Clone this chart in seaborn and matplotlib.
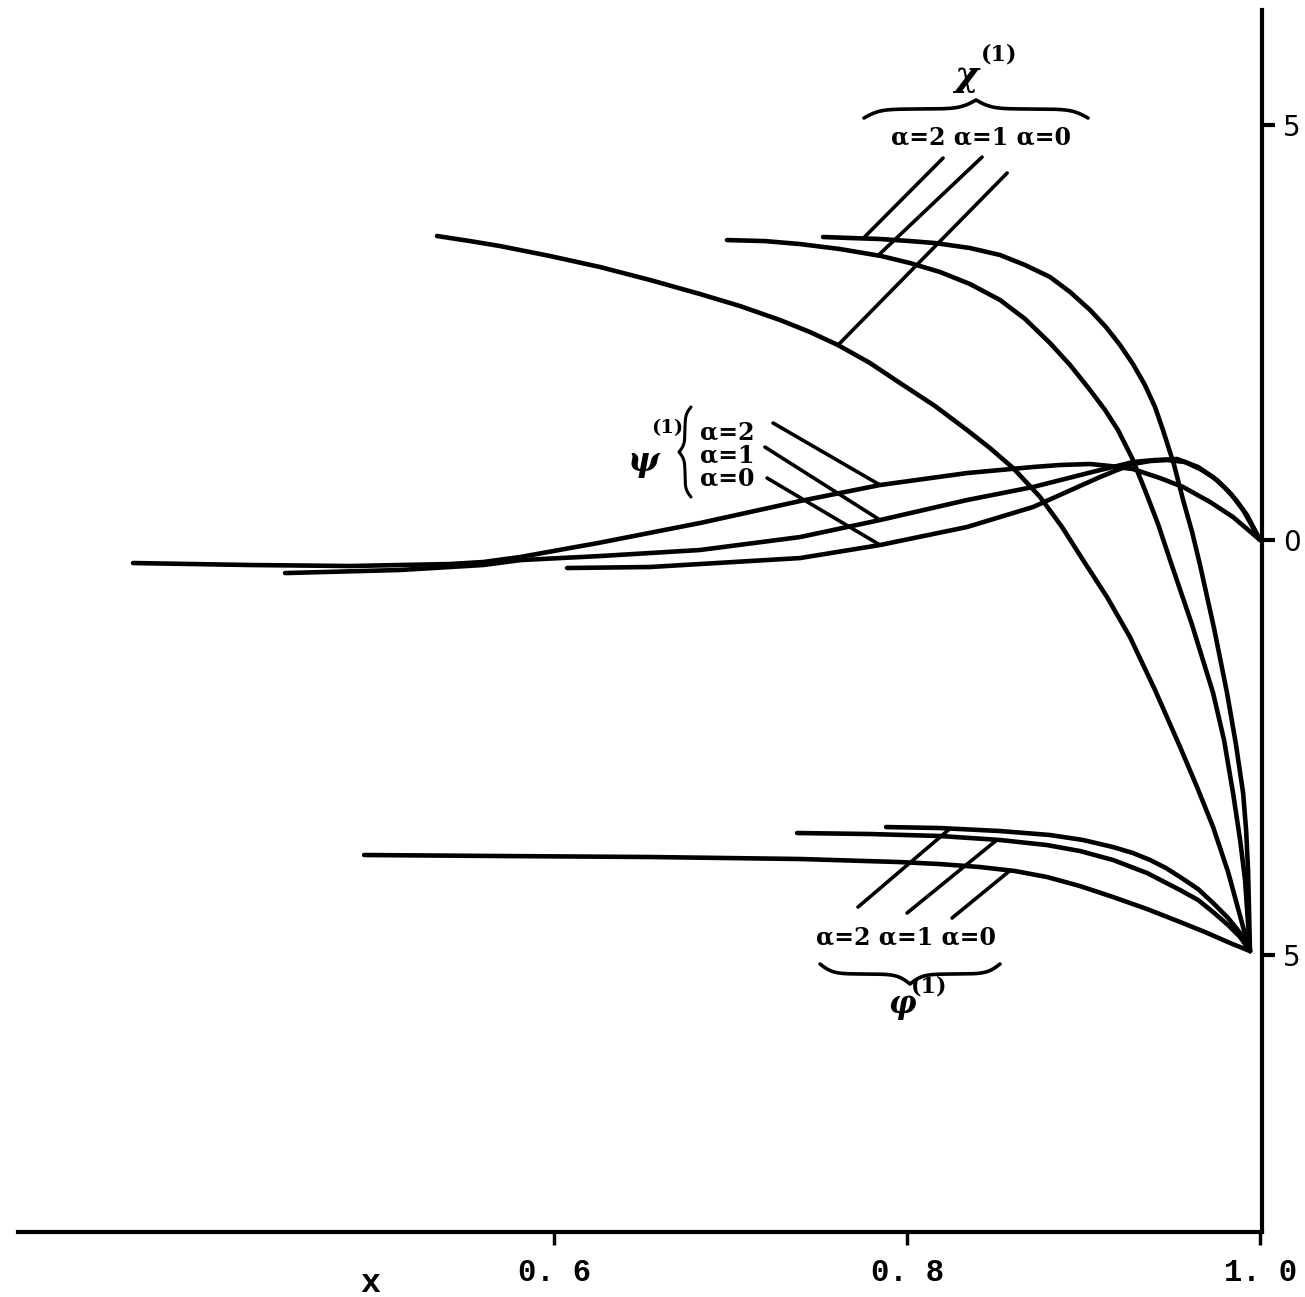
import numpy as np
import matplotlib
matplotlib.use("Agg")
import matplotlib.pyplot as plt
from matplotlib.lines import Line2D
import seaborn as sns

sns.set_style("white")
plt.rcParams['font.family'] = ['DejaVu Serif', 'DejaVu Sans']
plt.rcParams['text.color'] = 'black'
plt.rcParams['axes.labelcolor'] = 'black'
plt.rcParams['xtick.color'] = 'black'
plt.rcParams['ytick.color'] = 'black'

# ---------------- data ----------------
# chi^(1) curves
chi0_x = [0.5337, 0.5524, 0.5694, 0.5977, 0.6261, 0.6544, 0.6827, 0.7054, 0.7280, 0.7450, 0.7609, 0.7790,
          0.7960, 0.8159, 0.8340, 0.8470, 0.8601, 0.8754, 0.8878, 0.8997, 0.9133, 0.9263, 0.9405, 0.9547,
          0.9643, 0.9734, 0.9819, 0.9904, 0.9943]
chi0_y = [0.3663, 0.3602, 0.3542, 0.3422, 0.3289, 0.3133, 0.2964, 0.2819, 0.2651, 0.2506, 0.2349, 0.2133,
          0.1892, 0.1614, 0.1325, 0.1108, 0.0867, 0.0518, 0.0157, -0.0241, -0.0687, -0.1169, -0.1807, -0.2494,
          -0.2976, -0.3458, -0.4000, -0.4663, -0.4952]
chi1_x = [0.6980, 0.7195, 0.7394, 0.7620, 0.7853, 0.8017, 0.8187, 0.8357, 0.8527, 0.8669, 0.8810, 0.8924,
          0.9037, 0.9122, 0.9195, 0.9275, 0.9348, 0.9422, 0.9490, 0.9615, 0.9734, 0.9796, 0.9847, 0.9887,
          0.9915, 0.9943]
chi1_y = [0.3614, 0.3602, 0.3566, 0.3506, 0.3422, 0.3337, 0.3229, 0.3084, 0.2892, 0.2663, 0.2373, 0.2108,
          0.1807, 0.1566, 0.1325, 0.0988, 0.0602, 0.0193, -0.0241, -0.1024, -0.1843, -0.2410, -0.3048, -0.3614,
          -0.4096, -0.4952]
chi2_x = [0.7524, 0.7677, 0.7847, 0.8017, 0.8159, 0.8357, 0.8527, 0.8669, 0.8810, 0.8924, 0.9037, 0.9127,
          0.9207, 0.9280, 0.9348, 0.9405, 0.9450, 0.9513, 0.9564, 0.9615, 0.9660, 0.9739, 0.9813, 0.9864,
          0.9904, 0.9921, 0.9932, 0.9943]
chi2_y = [0.3651, 0.3639, 0.3627, 0.3602, 0.3578, 0.3518, 0.3434, 0.3313, 0.3169, 0.2988, 0.2771, 0.2566,
          0.2349, 0.2120, 0.1867, 0.1602, 0.1325, 0.0904, 0.0482, 0.0096, -0.0301, -0.1060, -0.1843, -0.2470,
          -0.3048, -0.3494, -0.3976, -0.4952]

# psi^(1) curves
psi2_x = [0.3615, 0.4278, 0.4844, 0.5411, 0.5598, 0.5807, 0.6249, 0.6827, 0.7394, 0.7847, 0.8340, 0.8714,
          0.8867, 0.9037, 0.9150, 0.9280, 0.9433, 0.9564, 0.9717, 0.9847, 1.0]
psi2_y = [-0.0277, -0.0301, -0.0313, -0.0289, -0.0265, -0.0205, -0.0036, 0.0205, 0.0470, 0.0663, 0.0807, 0.0880,
          0.0904, 0.0916, 0.0892, 0.0855, 0.0747, 0.0639, 0.0458, 0.0277, 0.0]
psi1_x = [0.4476, 0.5127, 0.5598, 0.5813, 0.6261, 0.6827, 0.7394, 0.7847, 0.8340, 0.8714, 0.9093, 0.9190,
          0.9280, 0.9405, 0.9530, 0.9649, 0.9756, 0.9836, 0.9904, 1.0]
psi1_y = [-0.0398, -0.0361, -0.0301, -0.0241, -0.0193, -0.0120, 0.0036, 0.0241, 0.0482, 0.0639, 0.0843, 0.0892,
          0.0940, 0.0964, 0.0976, 0.0880, 0.0723, 0.0554, 0.0361, 0.0]
psi0_x = [0.6074, 0.6544, 0.6827, 0.7394, 0.7847, 0.8340, 0.8714, 0.9093, 0.9190, 0.9280, 0.9377, 0.9473,
          0.9575, 0.9660, 0.9734, 0.9802, 0.9864, 0.9926, 1.0]
psi0_y = [-0.0337, -0.0325, -0.0289, -0.0217, -0.0060, 0.0157, 0.0398, 0.0759, 0.0843, 0.0916, 0.0952, 0.0964,
          0.0940, 0.0855, 0.0759, 0.0627, 0.0482, 0.0301, 0.0]

# phi^(1) curves
phi2_x = [0.7881, 0.8187, 0.8527, 0.8810, 0.8997, 0.9167, 0.9280, 0.9377, 0.9467, 0.9547, 0.9649, 0.9734,
          0.9819, 0.9887, 0.9943]
phi2_y = [-0.3458, -0.3470, -0.3506, -0.3554, -0.3614, -0.3699, -0.3771, -0.3855, -0.3952, -0.4060, -0.4205,
          -0.4373, -0.4554, -0.4735, -0.4952]
phi1_x = [0.7377, 0.7790, 0.8187, 0.8527, 0.8793, 0.8980, 0.9167, 0.9360, 0.9547, 0.9649, 0.9734, 0.9819,
          0.9887, 0.9943]
phi1_y = [-0.3530, -0.3542, -0.3566, -0.3614, -0.3675, -0.3747, -0.3855, -0.4012, -0.4217, -0.4337, -0.4482,
          -0.4639, -0.4783, -0.4952]
phi0_x = [0.4924, 0.5694, 0.6544, 0.7394, 0.7960, 0.8187, 0.8414, 0.8612, 0.8793, 0.8980, 0.9167, 0.9360,
          0.9547, 0.9688, 0.9830, 0.9943]
phi0_y = [-0.3795, -0.3807, -0.3819, -0.3843, -0.3880, -0.3904, -0.3940, -0.3988, -0.4060, -0.4169, -0.4301,
          -0.4446, -0.4602, -0.4723, -0.4855, -0.4952]

x_ticks = [0.6, 0.8, 1.0]
x_tick_labels = ["0. 6", "0. 8", "1. 0"]
y_ticks = [-0.5, 0.0, 0.5]
y_tick_labels = ["5", "0", "5"]
alpha_labels = ["\u03b1=2", "\u03b1=1", "\u03b1=0"]

# ---------------- figure ----------------
W, H = 1305, 1297
fig = plt.figure(figsize=(W / 100, H / 100), dpi=100)
ax = fig.add_axes([18 / W, (H - 1232) / H, (1262 - 18) / W, (1232 - 10) / H])
ax.set_xlim(0.2963, 1.0011)
ax.set_ylim(-0.8337, 0.6386)

curves = [(chi0_x, chi0_y), (chi1_x, chi1_y), (chi2_x, chi2_y),
          (psi0_x, psi0_y), (psi1_x, psi1_y), (psi2_x, psi2_y),
          (phi0_x, phi0_y), (phi1_x, phi1_y), (phi2_x, phi2_y)]
for xs, ys in curves:
    sns.lineplot(x=xs, y=ys, ax=ax, color="black", linewidth=3.3,
                 sort=False, estimator=None, solid_capstyle="round",
                 solid_joinstyle="round")


# leader lines (from label to a point on the curve)
def leader(x0, y0, x1, cx, cy):
    y1 = np.interp(x1, cx, cy)
    ax.plot([x0, x1], [y0, y1], color="black", lw=2.6, solid_capstyle="round")


leader(0.8204, 0.4602, 0.7751, chi2_x, chi2_y)
leader(0.8425, 0.4614, 0.7836, chi1_x, chi1_y)
leader(0.8567, 0.4422, 0.7609, chi0_x, chi0_y)

leader(0.7241, 0.1410, 0.7847, psi2_x, psi2_y)
leader(0.7195, 0.1120, 0.7847, psi1_x, psi1_y)
leader(0.7207, 0.0747, 0.7847, psi0_x, psi0_y)

leader(0.7722, -0.4422, 0.8244, phi2_x, phi2_y)
leader(0.8000, -0.4494, 0.8510, phi1_x, phi1_y)
leader(0.8255, -0.4554, 0.8584, phi0_x, phi0_y)

# axes styling
for s in ["left", "top"]:
    ax.spines[s].set_visible(False)
for s in ["right", "bottom"]:
    ax.spines[s].set_linewidth(3.0)
    ax.spines[s].set_color("black")

ax.yaxis.tick_right()
ax.set_yticks(y_ticks)
ax.set_yticklabels(y_tick_labels)
ax.tick_params(axis="y", right=True, left=False, direction="out", length=9,
               width=3, pad=6, labelsize=20, colors="black")
for lbl in ax.get_yticklabels():
    lbl.set_fontfamily("DejaVu Sans")

ax.set_xticks(x_ticks)
ax.set_xticklabels(x_tick_labels)
ax.tick_params(axis="x", bottom=True, direction="out", length=9, width=2.5,
               pad=10, labelsize=22, colors="black")
for lbl in ax.get_xticklabels():
    lbl.set_fontfamily("Liberation Mono")
    lbl.set_fontweight("bold")
ax.set_xlabel("")
ax.set_ylabel("")
ax.grid(False)


def T(px, py, s, **kw):
    kw.setdefault("ha", "center")
    kw.setdefault("va", "center")
    kw.setdefault("fontweight", "bold")
    kw.setdefault("color", "black")
    fig.text(px / W, 1 - py / H, s, **kw)


def brace(a0, a1, base, h, horizontal=True, beta=14, lw=2.6):
    u = np.linspace(0, 1, 120)
    half = 1 / (1 + np.exp(-beta * u)) + 1 / (1 + np.exp(-beta * (u - 1))) - 0.5
    am = (a0 + a1) / 2
    along = np.concatenate([a0 + u * (am - a0), am + u * (a1 - am)])
    across = base + h * np.concatenate([half, half[::-1]])
    if horizontal:
        px, py = along, across
    else:
        px, py = across, along
    fig.add_artist(Line2D(px / W, 1 - py / H, transform=fig.transFigure,
                          color="black", lw=lw, solid_capstyle="round"))


# chi label group
T(966, 76, "\u03c7", fontsize=26, fontstyle="italic")
T(999, 54, "(1)", fontsize=16)
brace(864, 1088, 118, -18)
T(981, 137, " ".join(alpha_labels), fontsize=17)

# psi label group
T(643, 462, "\u03c8", fontsize=24, fontstyle="italic")
T(667, 428, "(1)", fontsize=14)
brace(407, 497, 691, -12, horizontal=False, beta=12, lw=2.2)
for i, lab in enumerate(alpha_labels):
    T(700, 432 + 23 * i, lab, fontsize=17, ha="left")

# phi label group
T(906, 937, " ".join(alpha_labels), fontsize=17)
brace(820, 1000, 964, 20)
T(902, 1004, "\u03c6", fontsize=22, fontstyle="italic")
T(929, 987, "(1)", fontsize=16)

# x axis label
T(370, 1283, "x", fontsize=24, fontfamily="Liberation Mono")

fig.savefig("out.png", dpi=100, facecolor="white")
